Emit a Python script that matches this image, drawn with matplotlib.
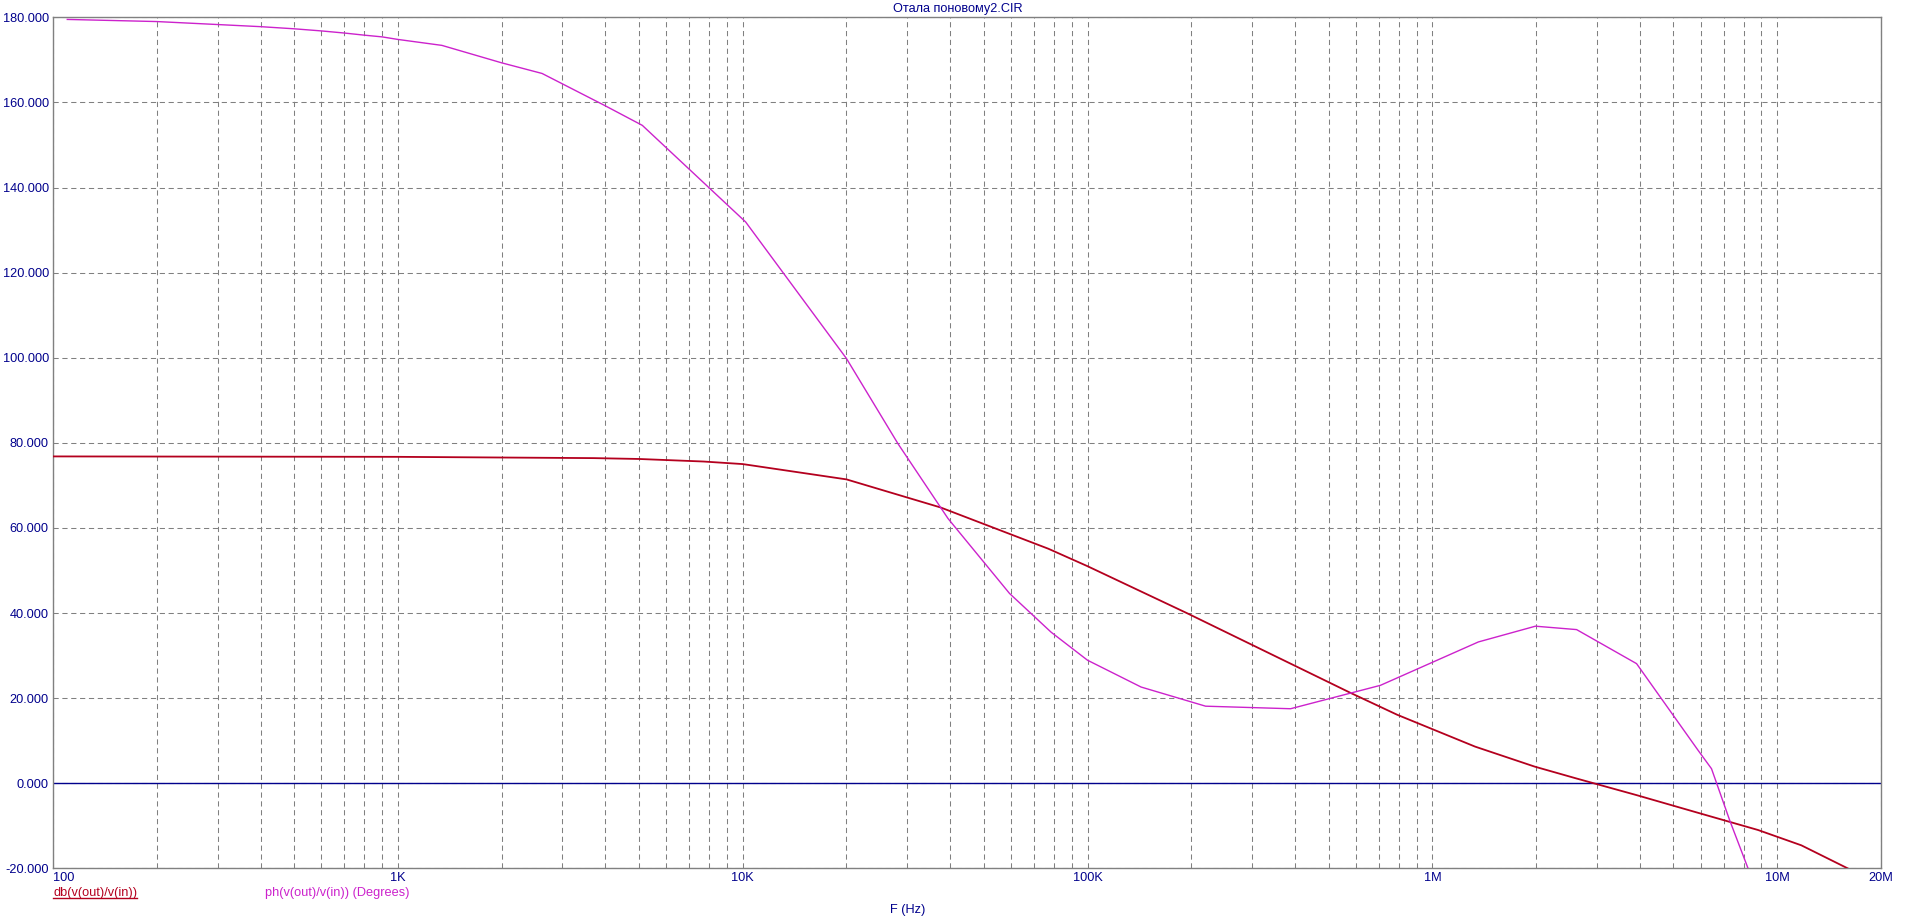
import matplotlib
matplotlib.use("Agg")
import matplotlib.pyplot as plt
from matplotlib.lines import Line2D
from matplotlib.ticker import FixedLocator, LogLocator, NullFormatter

plt.rcParams["font.family"] = ["Liberation Sans", "DejaVu Sans"]

# frequency response (Hz, dB / degrees)
mag_freq = [100, 1000, 3700, 5000, 7700, 10e3, 20e3, 37.5e3, 77e3, 100e3,
            195e3, 580e3, 790e3, 1.33e6, 1.98e6, 2.62e6, 3.91e6, 5.86e6,
            8.8e6, 11.75e6, 16e6, 20e6]
mag_db = [76.8, 76.7, 76.4, 76.2, 75.6, 75.0, 71.4, 64.8, 55.1, 51.0,
          39.9, 21.2, 16.1, 8.6, 3.9, 1.1, -2.8, -6.9,
          -11.0, -14.6, -20.0, -23.9]

ph_freq = [110, 200, 300, 400, 500, 600, 700, 800, 900, 1000, 1342, 2000,
           2620, 3974, 5117, 10.2e3, 20e3, 28.2e3, 39.4e3, 59.4e3, 78.4e3,
           100e3, 143e3, 220e3, 388e3, 707e3, 1.36e6, 1.99e6, 2.62e6,
           3.91e6, 5.9e6, 6.45e6, 7.28e6, 8.23e6, 9.0e6]
ph_deg = [179.5, 179.0, 178.3, 177.8, 177.3, 176.8, 176.3, 175.8, 175.4,
          174.8, 173.4, 169.3, 166.8, 159.3, 154.6, 131.9, 99.8, 79.8, 62.2,
          44.6, 35.5, 28.9, 22.6, 18.1, 17.5, 23.0, 33.2, 36.9, 36.1, 28.1,
          7.7, 3.4, -8.7, -20.0, -30.0]

x_ticks = [100, 1e3, 1e4, 1e5, 1e6, 1e7, 2e7]
x_labels = ["100", "1K", "10K", "100K", "1M", "10M", "20M"]
y_ticks = [-20, 0, 20, 40, 60, 80, 100, 120, 140, 160, 180]

RED = "#b4001e"
MAGENTA = "#cc22cc"
BLUE = "#00008c"
GRID = "#808080"
FS = 9.2

fig = plt.figure(figsize=(19.16, 9.23), dpi=100)
ax = fig.add_axes([53 / 1916, 1 - 868.3 / 923, (1881 - 53) / 1916, (868.3 - 17.3) / 923])

ax.plot(mag_freq, mag_db, color=RED, lw=1.3, zorder=3)
ax.plot(ph_freq, ph_deg, color=MAGENTA, lw=1.0, zorder=3)
ax.axhline(0, color=BLUE, lw=1.0, zorder=2)

ax.set_xscale("log")
ax.set_xlim(100, 2e7)
ax.set_ylim(-20, 180)

ax.xaxis.set_major_locator(FixedLocator(x_ticks))
ax.set_xticklabels(x_labels)
ax.xaxis.set_minor_locator(LogLocator(base=10, subs=range(2, 10)))
ax.xaxis.set_minor_formatter(NullFormatter())
ax.set_yticks(y_ticks)
ax.set_yticklabels([f"{v:.3f}" for v in y_ticks])

ax.grid(True, which="both", axis="x", color=GRID, ls=(0, (5, 3.5)), lw=0.75)
ax.grid(True, which="major", axis="y", color=GRID, ls=(0, (5, 3.5)), lw=0.75)

ax.tick_params(which="both", length=0, labelsize=FS, labelcolor=BLUE, pad=3)
ax.xaxis.get_majorticklabels()[0].set_horizontalalignment("left")
for s in ax.spines.values():
    s.set_color(GRID)
    s.set_linewidth(1.0)

fig.text(0.5, 1 - 9 / 923, "Отала поновому2.CIR", ha="center", va="center",
         fontsize=FS, color=BLUE)
fig.text(908 / 1916, 1 - 910 / 923, "F (Hz)", ha="center", va="center",
         fontsize=FS, color=BLUE)
leg1 = fig.text(53 / 1916, 1 - 893 / 923, "db(v(out)/v(in))", ha="left",
                va="center", fontsize=FS, color=RED)
fig.text(265 / 1916, 1 - 893 / 923, "ph(v(out)/v(in)) (Degrees)", ha="left",
         va="center", fontsize=FS, color=MAGENTA)

# underline the first trace name, as in the source plot
fig.canvas.draw()
bb = leg1.get_window_extent().transformed(fig.transFigure.inverted())
fig.add_artist(Line2D([bb.x0, bb.x1], [bb.y0 + 0.001, bb.y0 + 0.001],
                      transform=fig.transFigure, color=RED, lw=1.0))

fig.savefig("out.png", dpi=100)
